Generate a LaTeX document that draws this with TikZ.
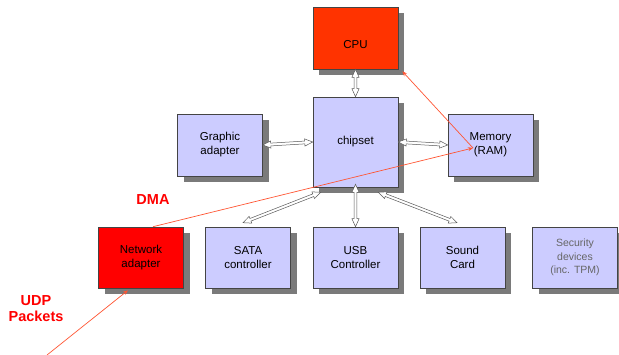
\documentclass[tikz,border=0pt]{standalone}
\usepackage{fontspec}
\setmainfont{Liberation Sans}
\usetikzlibrary{arrows.meta,calc}
\definecolor{lav}{HTML}{CCCCFF}
\definecolor{cpured}{HTML}{FF3300}
\definecolor{netred}{HTML}{FF0000}
\definecolor{linered}{HTML}{FF5533}
\definecolor{edge}{HTML}{444444}
\definecolor{boxshadow}{HTML}{7A7A7A}
\newcommand\busarrow[2]{%
  \draw[busline] (#1)
    -- ($(#1)!8pt!(#2)!3.6pt!90:(#2)$)
    -- ($(#1)!8pt!(#2)!1.4pt!90:(#2)$)
    -- ($(#2)!8pt!(#1)!1.4pt!-90:(#1)$)
    -- ($(#2)!8pt!(#1)!3.6pt!-90:(#1)$)
    -- (#2)
    -- ($(#2)!8pt!(#1)!3.6pt!90:(#1)$)
    -- ($(#2)!8pt!(#1)!1.4pt!90:(#1)$)
    -- ($(#1)!8pt!(#2)!1.4pt!-90:(#2)$)
    -- ($(#1)!8pt!(#2)!3.6pt!-90:(#2)$)
    -- cycle;}
% name, x, y, height, extra options, text
\newcommand\shbox[6]{%
  \path[fill=boxshadow] (#2-36.5,#3-#4/2+6) rectangle (#2+48.5,#3+#4/2+6);
  \node[box, minimum height=#4pt, #5] (#1) at (#2,#3) {#6};}
\begin{document}
\begin{tikzpicture}[x=1pt,y=-1pt,
  box/.style={draw=edge, line width=0.6pt, fill=lav, minimum width=85pt,
    inner sep=0pt, align=center, font=\fontsize{11.5}{14}\selectfont},
  busline/.style={draw=black!65, fill=white, line width=0.5pt, line join=miter},
  dma/.style={draw=linered, line width=0.7pt, -{Stealth[length=5pt,width=4pt]}},
  redlbl/.style={text=netred, font=\fontsize{14.5}{16}\bfseries\selectfont, align=center}]
\useasboundingbox (0,0) rectangle (619,355);
\shbox{cpu}{355.5}{38}{62}{fill=cpured, text height=22pt, text depth=0pt}{CPU}
\shbox{chip}{355.5}{142}{90}{}{chipset}
\shbox{gfx}{220}{145}{62}{}{Graphic\\adapter}
\shbox{mem}{490.5}{145}{62}{}{Memory\\(RAM)}
\shbox{net}{141}{257.5}{61}{fill=netred}{Network\\adapter}
\shbox{sata}{248}{257.5}{61}{}{SATA\\controller}
\shbox{usb}{355.5}{257.5}{61}{}{USB\\Controller}
\shbox{snd}{462.5}{257.5}{61}{}{Sound\\Card}
\shbox{sec}{575}{257.5}{61}{text=black!60, font=\fontsize{10.5}{13.5}\selectfont}{Security\\devices\\(inc. TPM)}
\coordinate (cpuB) at (cpu.south);
\coordinate (chipT) at (chip.north);
\coordinate (gfxR) at (gfx.east);
\coordinate (chipL) at (chip.west);
\coordinate (chipR) at (chip.east);
\coordinate (memL) at (mem.west);
\coordinate (chipS1) at ([shift={(8,5)}]chip.south west);
\coordinate (sataT) at ([shift={(-5,-4)}]sata.north);
\coordinate (chipS2) at ([yshift=3]chip.south);
\coordinate (usbT) at (usb.north);
\coordinate (chipS3) at ([shift={(-20,5)}]chip.south east);
\coordinate (sndT) at ([shift={(-5.5,-4)}]snd.north);
\busarrow{cpuB}{chipT}
\busarrow{gfxR}{chipL}
\busarrow{chipR}{memL}
\busarrow{chipS1}{sataT}
\busarrow{chipS2}{usbT}
\busarrow{chipS3}{sndT}
\coordinate (memhit) at ([shift={(-17.5,3)}]mem.center);
\coordinate (udp) at (47,355);
\draw[dma] (memhit) -- ([shift={(4,2)}]cpu.south east);
\draw[dma] ([xshift=12]net.north) -- (memhit);
\draw[dma] (udp) -- ([shift={(-13,2)}]net.south);
\node[redlbl] (dmal) at (153,200) {DMA};
\node[redlbl] (udpl) at (36,309) {UDP\\Packets};
\end{tikzpicture}
\end{document}
